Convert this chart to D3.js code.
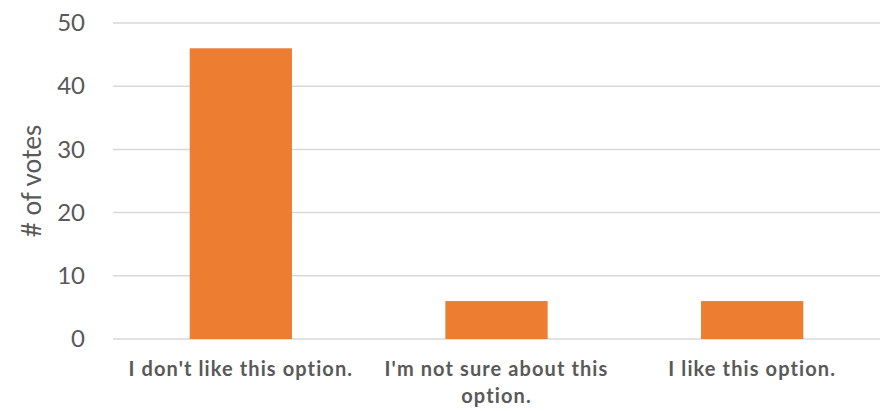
<!DOCTYPE html>
<html>
<head>
<meta charset="utf-8">
<script src="https://cdn.jsdelivr.net/npm/d3@7"></script>
<style>
  html, body { margin: 0; padding: 0; background: #fff; }
  svg { display: block; }
  text { font-family: Lato, "Open Sans", sans-serif; }
</style>
</head>
<body>
<svg id="chart" width="886" height="411"></svg>
<script>
const categories = ["I don't like this option.", "I'm not sure about this option.", "I like this option."];
const votes = [46, 6, 6];
const yTicks = [0, 10, 20, 30, 40, 50];
const yTitle = "# of votes";

const W = 886, H = 411;
const margin = { left: 113, right: 6, top: 23, bottom: 72 };
const svg = d3.select("#chart");

const x = d3.scaleBand()
  .domain(categories)
  .range([margin.left, W - margin.right])
  .paddingInner(0.6)
  .paddingOuter(0.3);

const y = d3.scaleLinear()
  .domain([0, 50])
  .range([H - margin.bottom, margin.top]);

// gridlines
svg.append("g")
  .selectAll("line")
  .data(yTicks)
  .join("line")
  .attr("x1", margin.left)
  .attr("x2", W - margin.right)
  .attr("y1", d => y(d))
  .attr("y2", d => y(d))
  .attr("stroke", "#d9d9d9")
  .attr("stroke-width", 1.5);

// y axis
const yAxis = svg.append("g")
  .attr("transform", `translate(${margin.left},0)`)
  .call(d3.axisLeft(y).tickValues(yTicks).tickSize(0).tickPadding(28));
yAxis.select(".domain").remove();
yAxis.selectAll("text")
  .attr("fill", "#595959")
  .style("font-size", "24px")
  .style("font-family", "Lato, 'Open Sans', sans-serif");

// bars
svg.append("g")
  .selectAll("rect")
  .data(votes)
  .join("rect")
  .attr("x", (d, i) => x(categories[i]))
  .attr("width", x.bandwidth())
  .attr("y", d => y(d))
  .attr("height", d => y(0) - y(d))
  .attr("fill", "#ed7d31");

// x axis
const xAxis = svg.append("g")
  .attr("transform", `translate(0,${y(0)})`)
  .call(d3.axisBottom(x).tickSize(0).tickPadding(0));
xAxis.select(".domain").remove();
xAxis.selectAll("text")
  .attr("fill", "#595959")
  .style("font-size", "20px")
  .style("font-weight", "bold")
  .style("letter-spacing", "1.1px")
  .style("font-family", "Lato, 'Open Sans', sans-serif")
  .attr("dy", null)
  .attr("y", 0)
  .each(function(d) {
    const t = d3.select(this);
    const words = d.split(/\s+/);
    t.text(null);
    let line = [];
    let lineNo = 0;
    let tspan = t.append("tspan").attr("x", 0).attr("y", 37);
    const maxW = 240;
    for (const w of words) {
      line.push(w);
      tspan.text(line.join(" "));
      if (tspan.node().getComputedTextLength() > maxW && line.length > 1) {
        line.pop();
        tspan.text(line.join(" "));
        line = [w];
        lineNo++;
        tspan = t.append("tspan").attr("x", 0).attr("y", 37 + lineNo * 27).text(w);
      }
    }
  });

// y title
svg.append("text")
  .attr("transform", `translate(41,${(y(0) + y(50)) / 2}) rotate(-90)`)
  .attr("text-anchor", "middle")
  .attr("fill", "#595959")
  .style("font-size", "26px")
  .text(yTitle);
</script>
</body>
</html>
